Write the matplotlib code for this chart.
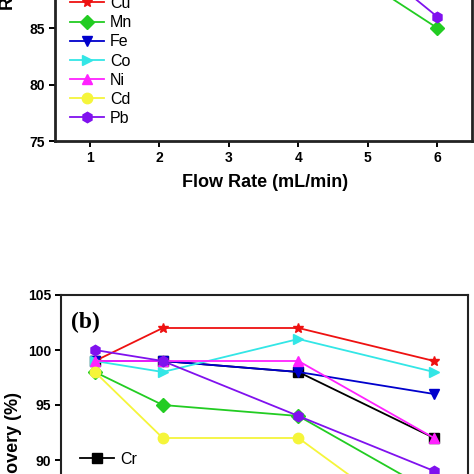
import matplotlib
matplotlib.use("Agg")
import matplotlib.pyplot as plt

plt.rcParams["font.family"] = ["Liberation Sans", "DejaVu Sans"]
plt.rcParams["font.weight"] = "bold"

# data
metals = ["Cr", "Cu", "Mn", "Fe", "Co", "Ni", "Cd", "Pb"]
colors = ["#000000", "#EE1111", "#22CC22", "#0000CC", "#33E6E6", "#FF22FF", "#F5F53A", "#8011EE"]
markers = ["s", "*", "D", "v", ">", "^", "o", "h"]

# (a) flow rate
flow_rate = [1, 2, 3, 4, 5, 6]
rec_flow = {
    "Cr": [99, 100, 99, 98, 96, 92],
    "Cu": [100, 101, 100, 99, 97, 94],
    "Mn": [98, 99, 97, 95, 89, 85],
    "Fe": [99, 100, 98, 97, 95, 91],
    "Co": [100, 99, 99, 98, 96, 93],
    "Ni": [99, 100, 99, 97, 94, 90],
    "Cd": [98, 99, 97, 96, 93, 89],
    "Pb": [100, 100, 98, 96, 91, 86],
}

# (b) second parameter
x_b = [1, 2, 4, 6]
rec_b = {
    "Cr": [99, 99, 98, 92],
    "Cu": [99, 102, 102, 99],
    "Mn": [98, 95, 94, 87],
    "Fe": [99, 99, 98, 96],
    "Co": [99, 98, 101, 98],
    "Ni": [99, 99, 99, 92],
    "Cd": [98, 92, 92, 83],
    "Pb": [100, 99, 94, 89],
}

W = H = 474.0
fig = plt.figure(figsize=(4.74, 4.74), dpi=100)


def px_rect(left, top, right, bottom):
    return [left / W, 1 - bottom / H, (right - left) / W, (bottom - top) / H]


def style_axes(ax, lw):
    for s in ax.spines.values():
        s.set_linewidth(lw)
        s.set_color("#222222")
    ax.tick_params(direction="out", length=4, width=1.4, labelsize=10, pad=3)
    for lab in ax.get_xticklabels() + ax.get_yticklabels():
        lab.set_fontweight("bold")


# top panel (cut off at the top of the picture)
ax1 = fig.add_axes(px_rect(55, 141 - 35 * 11.3, 472, 141))
for m, c, mk in zip(metals, colors, markers):
    ax1.plot(flow_rate, rec_flow[m], color=c, marker=mk, markersize=7.5, lw=1.3, label=m)
ax1.set_xlim(0.5, 6.5)
ax1.set_ylim(75, 110)
ax1.set_xticks(flow_rate)
ax1.set_yticks([75, 80, 85, 90, 95, 100, 105, 110])
style_axes(ax1, 2.0)
ax1.legend(loc="lower left", bbox_to_anchor=(70 / W, 1 - 126 / H), bbox_transform=fig.transFigure,
           frameon=False, handlelength=2.1, handletextpad=0.4, labelspacing=0.26,
           borderpad=0, borderaxespad=0, prop={"weight": "normal", "size": 11.5})

fig.text(265 / W, 1 - 187 / H, "Flow Rate (mL/min)", ha="center", va="baseline",
         fontsize=13, fontweight="bold")
fig.text(13 / W, 1 - (10 - 57) / H, "Recovery (%)", rotation=90, rotation_mode="anchor",
         ha="center", va="baseline", fontsize=13, fontweight="bold")

# bottom panel (cut off at the bottom of the picture)
ax2 = fig.add_axes(px_rect(61, 295, 468, 295 + 30 * 11.0))
for m, c, mk in zip(metals, colors, markers):
    ax2.plot(x_b, rec_b[m], color=c, marker=mk, markersize=7.5, lw=1.3, label=m)
ax2.set_xlim(0.5, 6.5)
ax2.set_ylim(75, 105)
ax2.set_xticks([1, 2, 3, 4, 5, 6])
ax2.set_yticks([75, 80, 85, 90, 95, 100, 105])
style_axes(ax2, 1.5)
ax2.legend(loc="upper left", bbox_to_anchor=(80 / W, 1 - 452 / H), bbox_transform=fig.transFigure,
           frameon=False, handlelength=2.1, handletextpad=0.4, labelspacing=0.45,
           borderpad=0, borderaxespad=0, prop={"weight": "normal", "size": 11.5})
ax2.text(85 / W, 1 - 322 / H, "(b)", transform=fig.transFigure, ha="center", va="center",
         fontsize=17, fontweight="bold", family=["Liberation Serif", "DejaVu Serif"])
fig.text(18 / W, 1 - 449 / H, "Recovery (%)", rotation=90, rotation_mode="anchor",
         ha="center", va="baseline", fontsize=13, fontweight="bold")

fig.savefig("out.png", dpi=100)
